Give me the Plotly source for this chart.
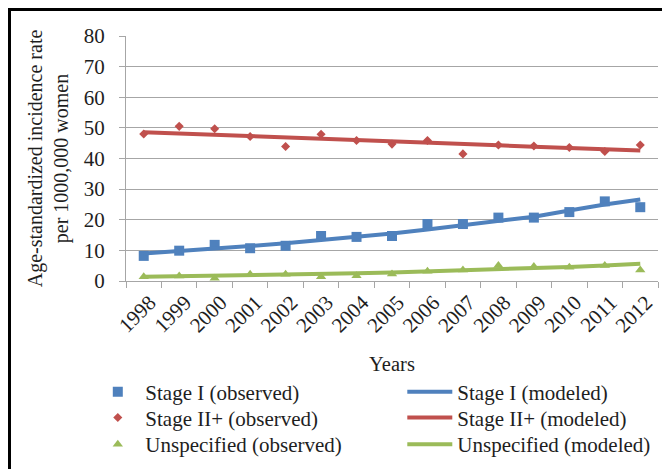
import plotly.graph_objects as go

years = ["1998", "1999", "2000", "2001", "2002", "2003", "2004", "2005",
         "2006", "2007", "2008", "2009", "2010", "2011", "2012"]

stage1_obs = [8.2, 9.9, 11.8, 10.7, 11.5, 14.7, 14.4, 14.7, 18.6, 18.6, 20.7, 20.7, 22.5, 26.0, 24.1]
stage1_mod = [9.0, 9.7, 10.5, 11.4, 12.3, 13.3, 14.3, 15.5, 16.8, 18.1, 19.5, 21.0, 23.0, 25.0, 26.6]
stage2_obs = [48.0, 50.5, 49.7, 47.2, 43.9, 47.9, 45.9, 44.7, 45.9, 41.5, 44.4, 44.1, 43.6, 42.3, 44.4]
stage2_mod = [48.6, 48.2, 47.7, 47.3, 46.8, 46.4, 45.9, 45.5, 45.1, 44.7, 44.3, 43.8, 43.4, 43.0, 42.6]
unspec_obs = [1.4, 1.6, 0.9, 2.2, 2.2, 1.4, 1.7, 2.3, 3.2, 3.6, 5.1, 4.7, 4.5, 5.1, 3.6]
unspec_mod = [1.4, 1.55, 1.7, 1.9, 2.1, 2.3, 2.5, 2.8, 3.1, 3.4, 3.8, 4.2, 4.6, 5.1, 5.6]

y_ticks = [0, 10, 20, 30, 40, 50, 60, 70, 80]

BLUE = "#4F81BD"
RED = "#C0504D"
GREEN = "#9BBB59"
GRID = "#A6A6A6"
TXT = "#1E1E1E"
FONT = "Liberation Serif"

# page body has an 8px margin: figure is sized to fill the rest of the window
W, H = 662, 461
L, R, T, B = 118, 12, 28, 188
PW = W - L - R
PH = H - T - B

fig = go.Figure()

# observed (markers)
fig.add_trace(go.Scatter(x=years, y=stage1_obs, mode="markers", name="Stage I (observed)",
                         marker=dict(symbol="square", size=10, color=BLUE), legend="legend"))
fig.add_trace(go.Scatter(x=years, y=stage2_obs, mode="markers", name="Stage II+ (observed)",
                         marker=dict(symbol="diamond", size=7, color=RED), legend="legend2"))
fig.add_trace(go.Scatter(x=years, y=unspec_obs, mode="markers", name="Unspecified (observed)",
                         marker=dict(symbol="triangle-up", size=9, color=GREEN), legend="legend3"))
# modeled (lines)
fig.add_trace(go.Scatter(x=years, y=stage1_mod, mode="lines", name="Stage I (modeled)",
                         line=dict(color=BLUE, width=4), legend="legend"))
fig.add_trace(go.Scatter(x=years, y=stage2_mod, mode="lines", name="Stage II+ (modeled)",
                         line=dict(color=RED, width=4), legend="legend2"))
fig.add_trace(go.Scatter(x=years, y=unspec_mod, mode="lines", name="Unspecified (modeled)",
                         line=dict(color=GREEN, width=4), legend="legend3"))


def row_legend(top_px):
    return dict(orientation="h", x=(82.3 - L) / PW, y=(T + PH - top_px) / PH,
                xanchor="left", yanchor="top", entrywidth=252, itemwidth=45,
                font=dict(family=FONT, size=21, color=TXT), bgcolor="rgba(0,0,0,0)",
                traceorder="normal")


fig.update_layout(
    width=W, height=H,
    margin=dict(l=L, r=R, t=T, b=B, autoexpand=False),
    paper_bgcolor="white", plot_bgcolor="white",
    font=dict(family=FONT, size=20, color=TXT),
    showlegend=True,
    legend=row_legend(363.7),
    legend2=row_legend(389.3),
    legend3=row_legend(416.0),
    xaxis=dict(type="category", range=[-0.5, 14.5], tickson="boundaries",
               ticks="outside", ticklen=6, tickcolor=GRID, tickwidth=1,
               showline=True, linecolor=GRID, linewidth=1, showgrid=False,
               tickangle=-45, ticklabelshift=6,
               tickfont=dict(family=FONT, size=21, color=TXT),
               title=dict(text="Years", standoff=20, font=dict(family=FONT, size=20.5, color=TXT)),
               automargin=False),
    yaxis=dict(range=[0, 80], tickvals=y_ticks, ticks="outside", ticklen=6, tickcolor=GRID,
               showline=True, linecolor=GRID, linewidth=1,
               showgrid=True, gridcolor=GRID, gridwidth=1, zeroline=False,
               ticklabelstandoff=10, tickfont=dict(family=FONT, size=21, color=TXT),
               title=dict(text="Age-standardized incidence rate<br>per 1000,000 women",
                          standoff=9, font=dict(family=FONT, size=20, color=TXT)),
               automargin=False),
    shapes=[dict(type="rect", xref="paper", yref="paper",
                 x0=(1.5 - L) / PW, x1=1.2, y0=-2.0, y1=(T + PH - 1.5) / PH,
                 line=dict(color="black", width=3), fillcolor="rgba(0,0,0,0)", layer="above")],
)

fig.write_html("out.html")
